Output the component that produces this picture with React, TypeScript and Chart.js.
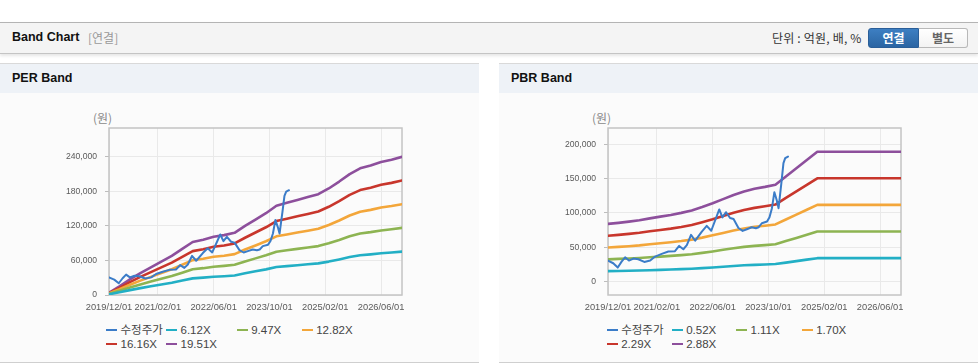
import React, { useEffect, useRef } from 'react';
import { Chart, registerables } from 'chart.js';

Chart.register(...registerables);

// ---------- data ----------
const X_MAX = 84; // months since 2019/12
const TICK_MONTHS = [0, 14, 30, 46, 62, 78];
const TICK_LABELS = ['2019/12/01', '2021/02/01', '2022/06/01', '2023/10/01', '2025/02/01', '2026/06/01'];

const BAND_MONTHS = [0, 3, 6, 9, 12, 15, 18, 21, 24, 27, 30, 33, 36, 39, 42, 45, 48, 51, 54, 57, 60, 63, 66, 69, 72, 75, 78, 81, 84];

const PRICE_MONTHS = [0, 1.5, 2.8, 3.9, 4.9, 6.0, 7.3, 8.7, 10.4, 12.1, 13.5, 15.4, 17.3, 19.2, 20.4, 21.6, 22.6, 23.8, 25.0, 26.9, 28.3, 29.6, 31.9, 32.8, 33.8, 35.0, 36.0, 37.4, 38.6, 39.8, 41.2, 42.4, 43.2, 44.1, 45.6, 46.3, 47.0, 47.7, 48.4, 48.9, 49.7, 50.3, 50.8, 51.6];
const PRICE_VALUES = [30600, 26700, 20400, 29100, 35400, 30600, 33500, 32500, 28600, 30600, 36400, 40300, 43700, 44200, 51900, 47100, 53000, 68000, 59500, 72800, 81100, 74000, 105000, 93500, 101000, 92500, 91000, 78000, 73800, 76200, 79100, 77700, 79100, 84900, 87400, 93700, 106800, 130100, 118000, 106800, 143200, 172300, 179600, 182000];

const PER_612 = [1300, 4700, 8500, 11900, 15100, 18200, 21300, 25100, 28900, 30100, 31700, 32600, 33900, 37600, 41100, 44500, 48600, 50200, 51800, 53300, 54900, 58000, 61800, 65900, 69000, 70600, 72500, 73700, 75300];
const PER_947 = [1900, 7300, 13100, 18400, 23300, 28200, 33000, 38800, 44700, 46600, 49000, 50500, 52400, 58200, 63600, 68900, 75200, 77700, 80100, 82500, 84900, 89800, 95600, 101900, 106800, 109200, 112100, 114100, 116500];
const PER_1282 = [2600, 9900, 17700, 25000, 31500, 38100, 44700, 52600, 60500, 63100, 66400, 68300, 71000, 78900, 86100, 93300, 101900, 105100, 108400, 111700, 115000, 121600, 129400, 138000, 144600, 147800, 151800, 154400, 157700];
const PER_1616 = [3300, 12400, 22400, 31500, 39800, 48000, 56300, 66300, 76200, 79500, 83700, 86100, 89500, 99400, 108500, 117600, 128400, 132500, 136700, 140800, 145000, 153200, 163200, 173900, 182200, 186400, 191300, 194700, 198800];
const PER_1951 = [4000, 15000, 27000, 38000, 48000, 58000, 68000, 80000, 92000, 96000, 101000, 104000, 108000, 120000, 131000, 142000, 155000, 160000, 165000, 170000, 175000, 185000, 197000, 210000, 220000, 225000, 231000, 235000, 240000];

const PBR_052 = [15200, 15400, 15800, 16100, 16600, 17100, 17500, 18100, 18700, 19600, 20600, 21700, 22800, 23700, 24400, 24900, 25500, 27600, 29800, 32000, 34100, 34100, 34100, 34100, 34100, 34100, 34100, 34100, 34100];
const PBR_111 = [32400, 33000, 33600, 34400, 35500, 36400, 37400, 38500, 39900, 41800, 43900, 46300, 48600, 50500, 52000, 53100, 54300, 59000, 63600, 68200, 72800, 72800, 72800, 72800, 72800, 72800, 72800, 72800, 72800];
const PBR_170 = [49600, 50500, 51500, 52700, 54300, 55800, 57300, 59000, 61100, 64000, 67300, 70800, 74400, 77300, 79700, 81300, 83200, 90300, 97400, 104500, 111600, 111600, 111600, 111600, 111600, 111600, 111600, 111600, 111600];
const PBR_229 = [66800, 68000, 69400, 71000, 73200, 75100, 77100, 79500, 82300, 86300, 90600, 95400, 100200, 104200, 107300, 109600, 112100, 121700, 131200, 140700, 150300, 150300, 150300, 150300, 150300, 150300, 150300, 150300, 150300];
const PBR_288 = [84000, 85500, 87300, 89300, 92000, 94500, 97000, 100000, 103500, 108500, 114000, 120000, 126000, 131000, 135000, 137800, 141000, 153000, 165000, 177000, 189000, 189000, 189000, 189000, 189000, 189000, 189000, 189000, 189000];

const PER_LABELS = ['수정주가', '6.12X', '9.47X', '12.82X', '16.16X', '19.51X'];
const PBR_LABELS = ['수정주가', '0.52X', '1.11X', '1.70X', '2.29X', '2.88X'];

const PER_Y_TICKS = [0, 60000, 120000, 180000, 240000];
const PBR_Y_TICKS = [0, 50000, 100000, 150000, 200000];

// ---------- styles ----------
const COLORS = ['#3b7cc8', '#22afc5', '#8db452', '#f3a63a', '#c8362c', '#8d4f9c'];
const CANVAS_W = 479;
const CANVAS_H = 225;
const AREA_LEFT = 109;
const AREA_RIGHT = 402;
const AREA_TOP = 35;
const AREA_BOTTOM = 202;
const TICK_FONT = "'Liberation Sans', Arial, sans-serif";
const UI_FONT = "'Liberation Sans', Arial, 'Noto Sans CJK KR', sans-serif";
const KR_FONT = "'Noto Sans CJK KR', 'Liberation Sans', sans-serif";

const framePlugin = {
  id: 'frame',
  beforeDatasetsDraw(chart: any) {
    const { ctx, chartArea: a } = chart;
    ctx.save();
    ctx.strokeStyle = '#c4c4c4';
    ctx.lineWidth = 1.5;
    ctx.strokeRect(a.left, a.top, a.right - a.left, a.bottom - a.top);
    ctx.restore();
  },
};

type BandProps = {
  labels: string[];
  bands: number[][];
  yMin: number;
  yMax: number;
  yTicks: number[];
};

function BandCanvas({ labels, bands, yMin, yMax, yTicks }: BandProps) {
  const ref = useRef<HTMLCanvasElement>(null);
  useEffect(() => {
    if (!ref.current) return;
    const pts = (xs: number[], ys: number[]) => xs.map((x, i) => ({ x, y: ys[i] }));
    const datasets: any[] = [
      {
        label: labels[0],
        data: pts(PRICE_MONTHS, PRICE_VALUES),
        borderColor: COLORS[0],
        backgroundColor: COLORS[0],
        borderWidth: 2,
      },
      ...bands.map((b, i) => ({
        label: labels[i + 1],
        data: pts(BAND_MONTHS, b),
        borderColor: COLORS[i + 1],
        backgroundColor: COLORS[i + 1],
        borderWidth: 2.6,
      })),
    ];
    const chart = new Chart(ref.current, {
      type: 'line',
      data: { datasets },
      options: {
        animation: false,
        responsive: false,
        maintainAspectRatio: false,
        events: [],
        layout: { padding: { left: 0, right: CANVAS_W - AREA_RIGHT, top: AREA_TOP, bottom: 0 } },
        plugins: { legend: { display: false }, tooltip: { enabled: false } },
        elements: { point: { radius: 0 }, line: { tension: 0, borderJoinStyle: 'round', borderCapStyle: 'round' } },
        scales: {
          x: {
            type: 'linear',
            min: 0,
            max: X_MAX,
            afterBuildTicks: (s: any) => {
              s.ticks = TICK_MONTHS.map((v) => ({ value: v }));
            },
            afterFit: (s: any) => {
              s.height = CANVAS_H - AREA_BOTTOM;
            },
            ticks: {
              autoSkip: false,
              maxRotation: 0,
              padding: 7,
              color: '#5a5a5a',
              font: { family: TICK_FONT, size: 9.3 },
              callback: (v: any) => {
                const i = TICK_MONTHS.indexOf(Number(v));
                return i >= 0 ? TICK_LABELS[i] : '';
              },
            },
            grid: { color: '#e9e9e9', lineWidth: 1, drawTicks: false },
            border: { display: false },
          },
          y: {
            type: 'linear',
            min: yMin,
            max: yMax,
            afterBuildTicks: (s: any) => {
              s.ticks = yTicks.map((v) => ({ value: v }));
            },
            afterFit: (s: any) => {
              s.width = AREA_LEFT;
            },
            ticks: {
              padding: 8,
              color: '#5a5a5a',
              font: { family: TICK_FONT, size: 8.6 },
              callback: (v: any) => Number(v).toLocaleString('en-US'),
            },
            grid: { color: '#e9e9e9', lineWidth: 1, tickLength: 4, tickColor: '#bdbdbd' },
            border: { display: false },
          },
        },
      },
      plugins: [framePlugin],
    });
    return () => chart.destroy();
  }, []);
  return (
    <canvas
      ref={ref}
      width={CANVAS_W}
      height={CANVAS_H}
      style={{ position: 'absolute', left: 0, top: 0, width: CANVAS_W, height: CANVAS_H }}
    />
  );
}

function Legend({ labels, left, cols }: { labels: string[]; left: number; cols: number[] }) {
  return (
    <div
      style={{
        position: 'absolute',
        left,
        top: 230,
        display: 'grid',
        gridTemplateColumns: cols.map((c) => c + 'px').join(' '),
        gridAutoRows: '14px',
        fontFamily: "'Liberation Sans', 'Noto Sans CJK KR', sans-serif",
        fontSize: 11.5,
        color: '#444',
        whiteSpace: 'nowrap',
      }}
    >
      {labels.map((l, i) => (
        <div key={l} style={{ display: 'flex', alignItems: 'center', height: 14 }}>
          <span style={{ display: 'inline-block', width: 11, height: 2.5, background: COLORS[i], marginRight: 3.5 }} />
          <span style={{ lineHeight: '14px' }}>{l}</span>
        </div>
      ))}
    </div>
  );
}

function Panel({
  x,
  title,
  labels,
  bands,
  yMin,
  yMax,
  yTicks,
  legendLeft,
  legendCols,
}: BandProps & { x: number; title: string; legendLeft: number; legendCols: number[] }) {
  return (
    <div style={{ position: 'absolute', left: x, top: 63, width: 479, height: 300 }}>
      <div style={{ position: 'absolute', left: 0, top: 0, width: 479, height: 1, background: '#d9d9d9' }} />
      <div
        style={{
          position: 'absolute',
          left: 0,
          top: 1,
          width: 479,
          height: 29,
          background: '#eef2f7',
        }}
      >
        <span
          style={{
            position: 'absolute',
            left: 12,
            top: 7,
            fontFamily: UI_FONT,
            fontWeight: 'bold',
            fontSize: 12.5,
            color: '#111',
          }}
        >
          {title}
        </span>
      </div>
      <div style={{ position: 'absolute', left: 0, top: 30, width: 479, height: 269, background: '#fbfbfb' }}>
        <span
          style={{
            position: 'absolute',
            left: 93,
            top: 17,
            fontFamily: KR_FONT,
            fontSize: 12,
            lineHeight: '16px',
            color: '#8a8a8a',
          }}
        >
          (원)
        </span>
        <BandCanvas labels={labels} bands={bands} yMin={yMin} yMax={yMax} yTicks={yTicks} />
        <Legend labels={labels} left={legendLeft} cols={legendCols} />
      </div>
      <div style={{ position: 'absolute', left: 0, top: 299, width: 479, height: 1, background: '#cfcfcf' }} />
    </div>
  );
}

export default function App() {
  return (
    <div style={{ position: 'relative', width: 978, height: 364, background: '#fff', overflow: 'hidden' }}>
      <style>{`body{margin:0;background:#fff;}`}</style>
      {/* header bar */}
      <div
        style={{
          position: 'absolute',
          left: 0,
          top: 22,
          width: 978,
          height: 30,
          background: '#f4f4f4',
          borderTop: '1px solid #b4b4b4',
          borderBottom: '1px solid #c4c4c4',
          boxShadow: '0 2px 3px rgba(0,0,0,0.10)',
        }}
      >
        <span
          style={{
            position: 'absolute',
            left: 12,
            top: 7,
            fontFamily: UI_FONT,
            fontWeight: 'bold',
            fontSize: 12.5,
            color: '#111',
          }}
        >
          Band Chart
        </span>
        <span
          style={{
            position: 'absolute',
            left: 88,
            top: 6,
            fontFamily: KR_FONT,
            fontSize: 12,
            color: '#999',
          }}
        >
          [연결]
        </span>
        <span
          style={{
            position: 'absolute',
            left: 772,
            top: 6,
            fontFamily: KR_FONT,
            fontSize: 12,
            letterSpacing: 0.2,
            color: '#333',
          }}
        >
          단위 : 억원, 배, %
        </span>
        <div
          style={{
            position: 'absolute',
            left: 868,
            top: 5,
            width: 100,
            height: 20,
            display: 'flex',
            fontFamily: KR_FONT,
            fontSize: 12,
            fontWeight: 'bold',
          }}
        >
          <div
            style={{
              width: 51,
              height: 20,
              boxSizing: 'border-box',
              background: 'linear-gradient(#3d7fc2, #2b65a3)',
              border: '1px solid #2a5e98',
              borderRadius: '3px 0 0 3px',
              color: '#fff',
              textAlign: 'center',
              lineHeight: '18px',
            }}
          >
            연결
          </div>
          <div
            style={{
              width: 49,
              height: 20,
              boxSizing: 'border-box',
              background: 'linear-gradient(#ffffff, #f3f3f3)',
              border: '1px solid #b8b8b8',
              borderLeft: 'none',
              borderRadius: '0 3px 3px 0',
              color: '#666',
              textAlign: 'center',
              lineHeight: '18px',
            }}
          >
            별도
          </div>
        </div>
      </div>

      <Panel
        x={0}
        title="PER Band"
        labels={PER_LABELS}
        bands={[PER_612, PER_947, PER_1282, PER_1616, PER_1951]}
        yMin={0}
        yMax={290000}
        yTicks={PER_Y_TICKS}
        legendLeft={106}
        legendCols={[60, 70.7, 65, 60]}
      />
      <Panel
        x={499}
        title="PBR Band"
        labels={PBR_LABELS}
        bands={[PBR_052, PBR_111, PBR_170, PBR_229, PBR_288]}
        yMin={-19500}
        yMax={223500}
        yTicks={PBR_Y_TICKS}
        legendLeft={107.7}
        legendCols={[65, 64.3, 65.7, 60]}
      />
    </div>
  );
}
